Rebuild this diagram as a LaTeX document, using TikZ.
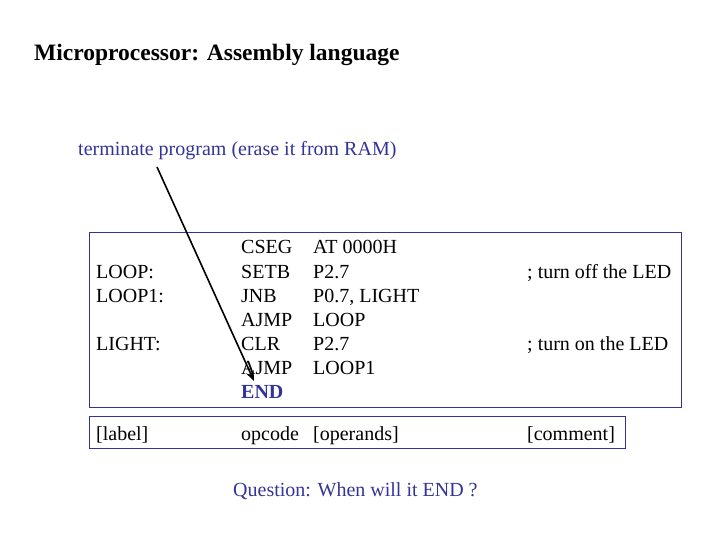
\documentclass[tikz,border=0pt]{standalone}
\usepackage{fontspec}
\usetikzlibrary{arrows.meta}
\setmainfont{Liberation Serif}
\definecolor{bl}{RGB}{51,51,153}
\begin{document}
\begin{tikzpicture}[x=1pt,y=-1pt,
  t/.style={anchor=base west,inner sep=0pt,font=\fontsize{20}{23}\selectfont},
  box/.style={draw=bl,line width=0.9pt}]
\useasboundingbox (0,0) rectangle (720,540);
\node[t,font=\fontsize{23.5}{27}\selectfont\bfseries] (title) at (34,61) {Microprocessor: Assembly language};
\node[t,text=bl] (term) at (78,156) {terminate program (erase it from RAM)};
\draw[box] (89,232) rectangle (681,407);
\draw[box] (89,416) rectangle (625,448);
\node[t] (l1) at (96,278) {LOOP:};
\node[t] (l2) at (96,302) {LOOP1:};
\node[t] (l3) at (96,350) {LIGHT:};
\node[t] (o1) at (241,254) {CSEG};
\node[t] (o2) at (241,278) {SETB};
\node[t] (o3) at (241,302) {JNB};
\node[t] (o4) at (241,326) {AJMP};
\node[t] (o5) at (241,350) {CLR};
\node[t] (o6) at (241,374) {AJMP};
\node[t,text=bl,font=\fontsize{20}{23}\selectfont\bfseries] (o7) at (241,398) {END};
\node[t] (p1) at (313,254) {AT 0000H};
\node[t] (p2) at (313,278) {P2.7};
\node[t] (p3) at (313,302) {P0.7, LIGHT};
\node[t] (p4) at (313,326) {LOOP};
\node[t] (p5) at (313,350) {P2.7};
\node[t] (p6) at (313,374) {LOOP1};
\node[t] (c1) at (527,278) {; turn off the LED};
\node[t] (c2) at (527,350) {; turn on the LED};
\node[t] (f1) at (96,440) {[label]};
\node[t] (f2) at (241,440) {opcode};
\node[t] (f3) at (313,440) {[operands]};
\node[t] (f4) at (527,440) {[comment]};
\node[t,text=bl] (q) at (233,496) {Question: When will it END ?};
\coordinate (a0) at (157,167);
\coordinate (a1) at (254,381);
\draw[line width=1.6pt,-{Stealth[length=10pt,width=8pt]}] (a0) -- (a1);
\end{tikzpicture}
\end{document}
